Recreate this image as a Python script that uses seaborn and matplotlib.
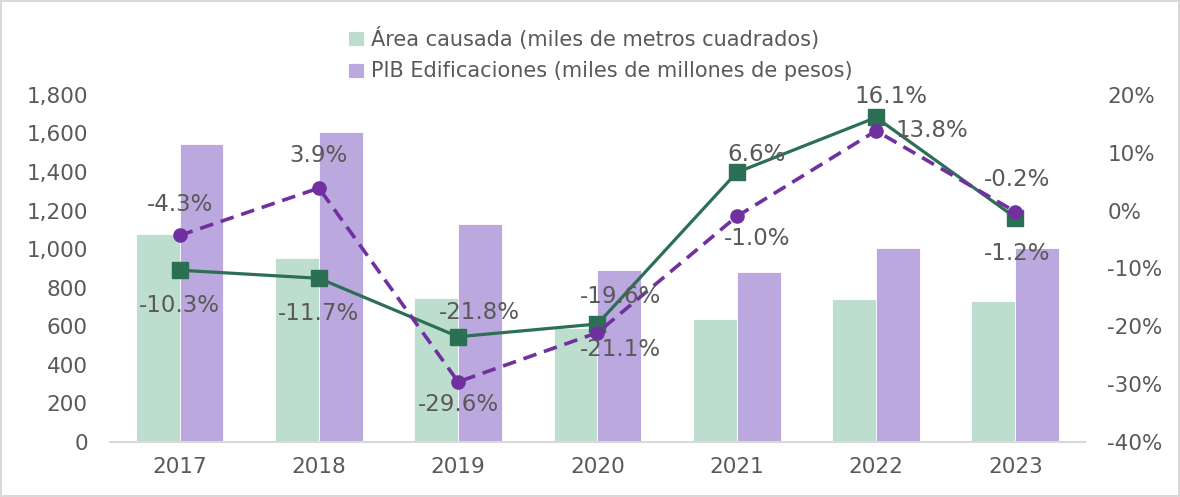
import numpy as np
import pandas as pd
import matplotlib
matplotlib.use("Agg")
import matplotlib.pyplot as plt
import seaborn as sns
from matplotlib.ticker import FuncFormatter, FixedLocator

years = ["2017", "2018", "2019", "2020", "2021", "2022", "2023"]
area_causada = [1079, 954, 747, 591, 638, 742, 731]
pib_edificaciones = [1546, 1608, 1131, 892, 882, 1006, 1006]
var_area = [-10.3, -11.7, -21.8, -19.6, 6.6, 16.1, -1.2]
var_pib = [-4.3, 3.9, -29.6, -21.1, -1.0, 13.8, -0.2]
series_names = ["Área causada (miles de metros cuadrados)",
                "PIB Edificaciones (miles de millones de pesos)"]

sns.set_theme(style="white")
plt.rcParams['font.family'] = ['DejaVu Sans']
TXT = "#595959"

df = pd.DataFrame({
    "year": years * 2,
    "value": area_causada + pib_edificaciones,
    "series": [series_names[0]] * len(years) + [series_names[1]] * len(years),
})

fig = plt.figure(figsize=(11.8, 4.97), dpi=100)
fig.patch.set_facecolor("white")
fig.patch.set_edgecolor("#D9D9D9")
fig.patch.set_linewidth(1.5)
ax = fig.add_axes([0.0932, 0.1107, 0.8263, 0.6983])

sns.barplot(data=df, x="year", y="value", hue="series",
            palette=["#BDDECF", "#BBA8DE"], width=0.63, ax=ax,
            edgecolor="white", linewidth=0.6, saturation=1)
handles, labels = ax.get_legend_handles_labels()
if ax.get_legend() is not None:
    ax.get_legend().remove()

ax.set_xlim(-0.5, 6.5)
ax.set_ylim(0, 1800)
ax.yaxis.set_major_locator(FixedLocator(np.arange(0, 1801, 200)))
ax.yaxis.set_major_formatter(FuncFormatter(lambda v, p: f"{int(v):,}"))
ax.set_xlabel("")
ax.set_ylabel("")
for s in ["top", "left", "right"]:
    ax.spines[s].set_visible(False)
ax.spines["bottom"].set_color("#D9D9D9")
ax.spines["bottom"].set_linewidth(1.5)
ax.tick_params(axis="y", length=0, pad=16, labelsize=15.5, labelcolor=TXT)
ax.tick_params(axis="x", length=0, pad=11, labelsize=15.5, labelcolor=TXT)

ax2 = ax.twinx()
xi = np.arange(len(years))
ax2.plot(xi, var_area, color="#2B6F55", lw=2.3, marker="s", markersize=11.5,
         zorder=3)
ax2.plot(xi, var_pib, color="#7030A0", lw=2.6, ls=(0, (3.8, 2.2)), marker="o",
         markersize=9.5, zorder=4)
ax2.set_ylim(-40, 20)
ax2.set_xlim(-0.5, 6.5)
ax2.yaxis.set_major_locator(FixedLocator(np.arange(-40, 21, 10)))
ax2.yaxis.set_major_formatter(FuncFormatter(lambda v, p: f"{int(round(v))}%"))
for s in ["top", "left", "right", "bottom"]:
    ax2.spines[s].set_visible(False)
ax2.tick_params(axis="y", length=0, pad=16, labelsize=15.5, labelcolor=TXT)
ax2.grid(False)

off_area = [(0, -35), (0, -35), (21, 24), (23, 27), (20, 18), (15, 21), (2, -36)]
off_pib = [(0, 31), (0, 33), (0, -23), (23, -17), (20, -22), (19, 0), (2, 32)]

for i, (v, o) in enumerate(zip(var_area, off_area)):
    ax2.annotate(f"{v:.1f}%", (xi[i], v), xytext=o, textcoords="offset pixels",
                 ha="center", va="center", fontsize=16.5, color=TXT, zorder=5)
for i, (v, o) in enumerate(zip(var_pib, off_pib)):
    ha = "left" if i == 5 else "center"
    ax2.annotate(f"{v:.1f}%", (xi[i], v), xytext=o, textcoords="offset pixels",
                 ha=ha, va="center", fontsize=16.5, color=TXT, zorder=5)

fig.legend(handles, labels, loc="upper center", bbox_to_anchor=(0.509, 0.975),
           ncol=1, frameon=False, fontsize=15, labelcolor=TXT,
           handlelength=0.75, handleheight=0.75, handletextpad=0.35,
           labelspacing=0.55, borderpad=0.2)

fig.savefig("out.png", dpi=100, facecolor="white", edgecolor="#D9D9D9")
